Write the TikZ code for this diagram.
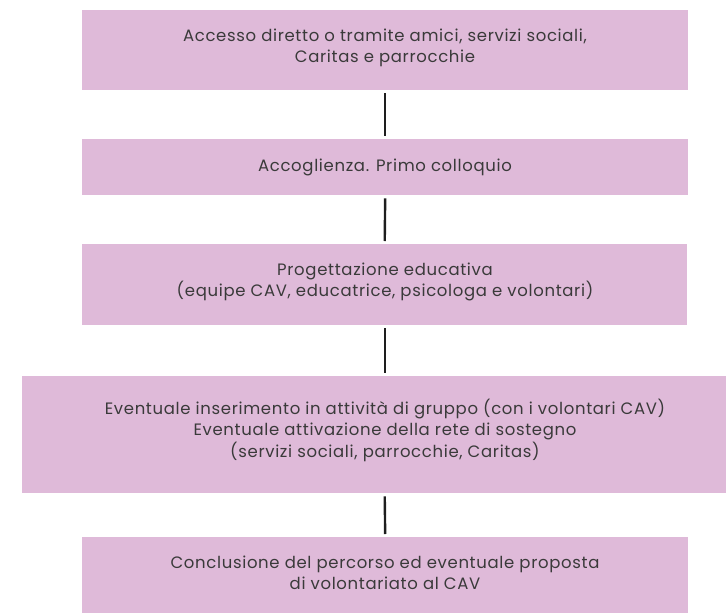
\documentclass[tikz,border=0pt]{standalone}
\usepackage{fontspec}
\setmainfont{Poppins}[LetterSpace=4]
\definecolor{boxpink}{HTML}{DFBAD9}
\definecolor{txt}{HTML}{3A3A3A}
\definecolor{linec}{HTML}{1E1E1E}
\begin{document}
\begin{tikzpicture}[x=1pt,y=-1pt,
  pbox/.style={fill=boxpink, draw=none, inner sep=0pt, anchor=north west},
  ptext/.style={text=txt, font=\fontsize{16.5}{21.5}\selectfont, align=center, inner sep=0pt},
  conn/.style={draw=linec, line width=2.4pt, shorten <=3pt, shorten >=3pt}]
\useasboundingbox (0,0) rectangle (726,613);
\node[pbox, minimum width=606pt, minimum height=80pt] (b1) at (82,10) {};
\node[pbox, minimum width=606pt, minimum height=56pt] (b2) at (82,139) {};
\node[pbox, minimum width=605pt, minimum height=81pt] (b3) at (82,244) {};
\node[pbox, minimum width=704pt, minimum height=117pt] (b4) at (22,376) {};
\node[pbox, minimum width=606pt, minimum height=76pt] (b5) at (82,537) {};
\node[ptext] (t1) at (385,48) {Accesso diretto o tramite amici, servizi sociali,\\Caritas e parrocchie};
\node[ptext] (t2) at (385,167) {Accoglienza. Primo colloquio};
\node[ptext] (t3) at (385,282) {Progettazione educativa\\(equipe CAV, educatrice, psicologa e volontari)};
\node[ptext] (t4) at (385,430) {Eventuale inserimento in attività di gruppo (con i volontari CAV)\\Eventuale attivazione della rete di sostegno\\(servizi sociali, parrocchie, Caritas)};
\node[ptext] (t5) at (385,573) {Conclusione del percorso ed eventuale proposta\\di volontariato al CAV};
\draw[conn] (b1.south) -- (b2.north);
\draw[conn] (b2.south) -- (b3.north);
\draw[conn] (b3.south) -- (b3.south |- b4.north);
\draw[conn] (b3.south |- b4.south) -- (b5.north);
\end{tikzpicture}
\end{document}
